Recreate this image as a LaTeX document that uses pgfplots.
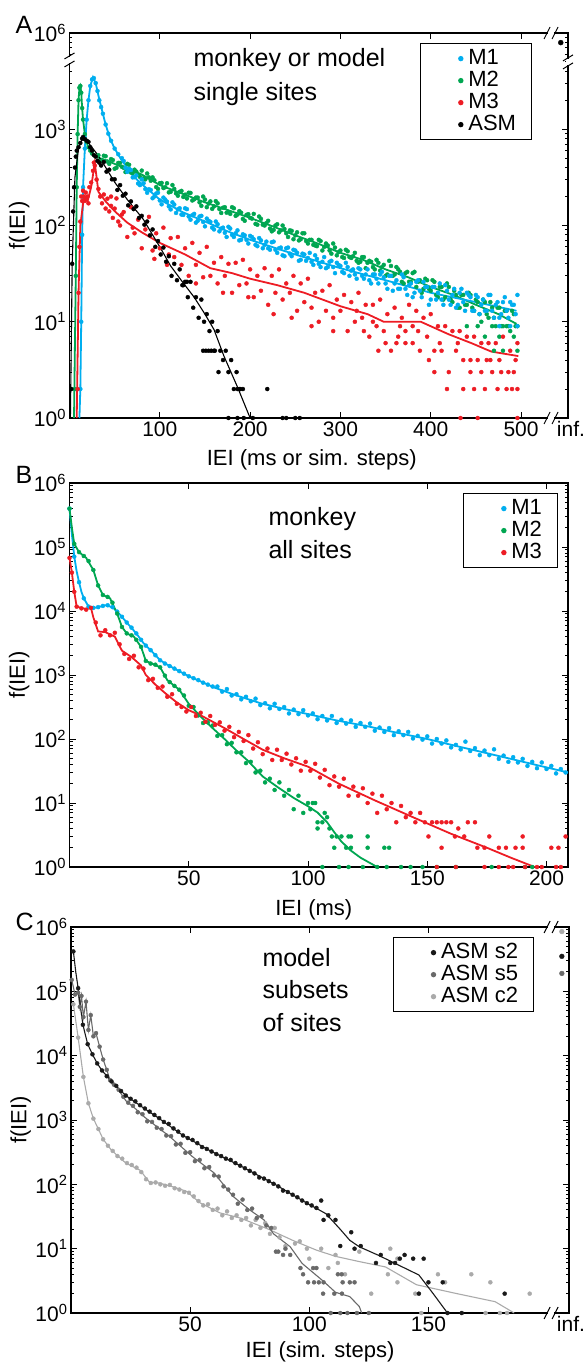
\documentclass[border=0pt]{standalone}
\usepackage{fontspec}
\setmainfont{Liberation Sans}
\usepackage{pgfplots}
\pgfplotsset{compat=1.18}

\definecolor{cM1}{RGB}{0,174,239}
\definecolor{cM2}{RGB}{0,166,81}
\definecolor{cM3}{RGB}{237,28,36}
\definecolor{cS2}{RGB}{25,25,25}
\definecolor{cS5}{RGB}{105,105,105}
\definecolor{cC2}{RGB}{170,170,170}

\newcommand\fs{\fontsize{21bp}{25bp}\selectfont}
\newcommand\fl{\fontsize{22bp}{26bp}\selectfont}
\newcommand\fa{\fontsize{25bp}{29bp}\selectfont}
\newcommand\ex[1]{10\textsuperscript{#1}}

% axis-break marks: on a vertical / horizontal axis line (argument: coordinate name)
\newcommand\vbrk[1]{%
  \fill[white] ([shift={(-2bp,-3bp)}]#1) rectangle ([shift={(2bp,3bp)}]#1);
  \draw[line width=1bp] ([shift={(-5bp,-7bp)}]#1) -- ([shift={(5bp,-1bp)}]#1);
  \draw[line width=1bp] ([shift={(-5bp,1bp)}]#1) -- ([shift={(5bp,7bp)}]#1);}
\newcommand\hbrk[1]{%
  \fill[white] ([shift={(-3bp,-2bp)}]#1) rectangle ([shift={(3bp,2bp)}]#1);
  \draw[line width=1bp] ([shift={(-7bp,-6bp)}]#1) -- ([shift={(-1bp,6bp)}]#1);
  \draw[line width=1bp] ([shift={(1bp,-6bp)}]#1) -- ([shift={(7bp,6bp)}]#1);}

% legend entry: a single dot, text to its right
\newcommand\dotlegend[1]{\addlegendimage{legend image code/.code={%
  \path[draw=none, fill=none] (0,0) -- (32bp,0);
  \fill[#1, draw=none] (26bp,0) circle (2.7bp);}}}

\pgfplotsset{
  every axis/.append style={
    scale only axis, clip=false,
    axis line style={line width=1.2bp},
    tick style={black, line width=1bp},
    major tick length=6bp, minor tick length=3bp,
    tick align=inside,
    tick label style={font=\fs},
    label style={font=\fl},
    legend style={font=\fl, draw=black, line width=1.2bp,
      inner xsep=14bp, inner ysep=4bp,
      nodes={inner sep=1.5bp, text height=15bp, text depth=4bp}},
    legend cell align=left,
  },
  scat/.style={only marks, mark=*, mark size=2bp, forget plot},
  fitk/.style={no markers, forget plot, line width=1.8bp},
  fitt/.style={no markers, forget plot, line width=1.1bp},
}

\begin{document}
\begin{tikzpicture}
\path[use as bounding box] (0,0) rectangle (588bp,-1364bp);

% ---------------- panel A ----------------
\begin{axis}[ymode=log, at={(69.5bp,-418bp)}, anchor=south west,
  width=498.5bp, height=385bp,
  xmin=0, xmax=552, ymin=1, ymax=10000,
  xtick={100,200,300,400,500}, xticklabels={100,200,300,400,500},
  extra x ticks={552}, extra x tick labels={inf.},
  extra x tick style={major tick length=0pt, tick label style={xshift=3bp}},
  ytick={1,10,100,1000,10000}, yticklabels={\ex{0},\ex{1},\ex{2},\ex{3},\ex{6}},
  xlabel={IEI (ms or sim. steps)},
  xlabel style={at={(rel axis cs:0.486,-0.109)}, anchor=center},
  ylabel={f(IEI)},
  ylabel style={at={(rel axis cs:-0.101,0.5)}, anchor=center},
  legend style={at={(0.928,0.974)}, anchor=north east},
]
\dotlegend{cM1}
\dotlegend{cM2}
\dotlegend{cM3}
\dotlegend{black}
\legend{M1,M2,M3,ASM}

\addplot[scat, cM2] coordinates {
(6,2)(7,30)(8,250)(9,890)(10,2000)(11,2700)(12,2820)(13,2400)(14,1660)(15,1260)(17,890)(19,740)(21,650)(23,600)(25,560)(28,530)
(32,537)(36,468)(40,525)(44,437)(48,479)(52,398)(56,447)(60,398)(64,437)(68,355)(72,380)(76,339)(80,372)(84,302)(88,316)(92,316)(96,251)(100,275)
(104,245)(108,275)(112,224)(116,240)(120,204)(124,229)(128,209)(132,219)(136,182)(140,195)(144,174)(148,200)(152,155)(156,178)(160,158)(164,170)
(168,135)(172,155)(176,138)(180,155)(184,126)(188,141)(192,117)(196,129)(200,120)(204,132)(208,102)(212,117)(216,100)(220,112)(224,87)(228,100)
(232,85)(236,100)(240,83)(244,89)(248,72)(252,85)(256,72)(260,83)(264,65)(268,71)(272,62)(276,71)(280,55)(284,65)(288,55)(292,65)(296,49)(300,55)
(304,46)(308,54)(312,46)(316,52)(320,41)(324,47)(328,36)(332,43)(336,37)(340,44)(344,34)(348,39)(352,31)(356,38)(360,31)(364,35)(368,26)(372,32)
(376,26)(380,32)(384,23)(388,27)(392,22)(396,27)(400,21)(404,26)(408,18)(412,23)(416,18)(420,23)(424,16)(428,19)(432,14)(436,19)(440,15)(444,19)
(448,13)(452,16)(456,10)(460,16)(464,11)(468,14)(472,9)(476,14)(480,9)(484,13)(488,8)(492,12)(496,5)
(440,9)(452,9)(460,7)(468,9)(476,7)(484,9)(492,7)(496,9)(480,5)(470,5)
(34,468)(38,531)(42,462)(46,490)(50,389)(54,447)(58,407)(62,359)(66,427)(70,351)(74,363)(78,320)(82,309)(86,347)(90,292)(94,295)(98,240)
(102,277)(106,250)(110,221)(114,263)(118,216)(122,224)(126,198)(130,191)(134,218)(138,187)(142,195)(146,160)(150,186)(154,169)(158,149)
(162,179)(166,148)(170,153)(174,136)(178,132)(182,151)(186,130)(190,136)(194,112)(198,131)(202,118)(206,104)(210,124)(214,102)(218,106)
(222,93)(226,90)(230,103)(234,89)(238,92)(242,76)(246,88)(250,79)(254,70)(258,83)(262,69)(266,71)(270,63)(274,61)(278,69)(282,60)(286,62)
(290,51)(294,59)(298,53)(302,47)(306,56)(310,47)(314,48)(318,43)(322,42)(326,47)(330,41)(334,42)(338,35)(342,41)(346,37)(350,30)(354,43)
(358,30)(362,37)(366,33)(370,25)(374,33)(378,26)(382,33)(386,26)(390,20)(394,28)(398,22)(402,27)(406,19)(410,23)(414,17)(418,25)(422,17)
(426,21)(430,14)(434,19)(438,15)(442,20)(446,14)(450,17)(454,12)(458,17)(462,12)(466,16)(470,11)(474,14)(478,9)(482,13)(486,9)(490,13)(494,9)};
\addplot[scat, cM1] coordinates {
(12,2)(13,10)(14,80)(15,250)(17,630)(19,1260)(21,2000)(23,2820)(25,3300)(27,3400)(29,3020)(31,2500)(33,2000)(35,1700)(37,1450)(40,1120)(43,900)(46,760)(50,630)(54,550)
(58,501)(62,398)(66,389)(70,316)(74,331)(78,263)(82,275)(86,219)(90,234)(94,200)(98,219)(102,166)(106,186)(110,158)(114,174)(118,135)(122,151)
(126,129)(130,148)(134,115)(138,132)(142,112)(146,126)(150,98)(154,112)(158,95)(162,110)(166,87)(170,95)(174,76)(178,93)(182,76)(186,89)(190,71)
(194,79)(198,65)(202,76)(206,63)(210,74)(214,58)(218,68)(222,56)(226,68)(230,52)(234,59)(238,48)(242,59)(246,48)(250,55)(254,43)(258,51)(262,43)
(266,52)(270,39)(274,45)(278,37)(282,47)(286,37)(290,43)(294,32)(298,39)(302,33)(306,41)(310,30)(314,35)(318,28)(322,35)(326,28)(330,35)(334,25)
(338,31)(342,25)(346,33)(350,25)(354,30)(358,21)(362,27)(366,22)(370,29)(374,19)(378,25)(382,20)(386,27)(390,18)(394,23)(398,15)(402,23)(406,17)
(410,25)(414,15)(418,21)(422,15)(426,22)(430,15)(434,22)(438,13)(442,19)(446,13)(450,19)(454,12)(458,17)(462,13)(466,19)(470,11)(474,16)(478,12)
(482,18)(486,11)(490,15)(494,12)(496,19)(488,9)(496,9)(476,9)
(60,468)(64,361)(68,377)(72,318)(76,273)(80,302)(84,239)(88,238)(92,192)(96,215)(100,182)(104,195)(108,177)(112,147)(116,165)(120,147)
(124,130)(128,151)(132,124)(136,128)(140,107)(144,124)(148,109)(152,118)(156,109)(160,91)(164,103)(168,93)(172,84)(176,97)(180,80)(184,83)
(188,70)(192,81)(196,71)(200,78)(204,72)(208,61)(212,70)(216,63)(220,58)(224,67)(228,56)(232,58)(236,49)(240,58)(244,51)(248,56)(252,52)
(256,44)(260,50)(264,46)(268,42)(272,49)(276,40)(280,42)(284,36)(288,42)(292,37)(296,41)(300,38)(304,32)(308,37)(312,34)(316,31)(320,36)
(324,30)(328,31)(332,27)(336,31)(340,28)(344,31)(348,29)(352,22)(356,30)(360,25)(364,22)(368,31)(372,22)(376,24)(380,18)(384,26)(388,21)
(392,26)(396,23)(400,17)(404,23)(408,20)(412,17)(416,24)(420,17)(424,19)(428,14)(432,20)(436,16)(440,20)(444,18)(448,13)(452,18)(456,15)
(460,13)(464,19)(468,13)(472,15)(476,11)(480,16)(484,13)(488,16)(492,15)};
\addplot[scat, cM3] coordinates {
(9,2)(10,20)(11,60)(12,110)(13,200)(14,180)(15,230)(16,200)(17,180)(18,220)(19,190)(20,200)(21,170)(22,250)(24,280)(26,370)(27,450)(28,420)(30,300)
(32,240)(34,200)(36,170)(38,210)(40,150)(42,190)(44,140)(46,160)(48,120)(50,150)
(52,191)(56,100)(60,138)(64,76)(68,155)(72,83)(76,115)(80,58)(84,91)(88,123)(92,55)(96,83)(100,58)(104,95)(108,39)(112,74)(116,47)(120,76)(124,39)
(128,58)(132,30)(136,66)(140,39)(144,52)(148,29)(152,60)(156,30)(160,41)(164,25)(168,47)(172,30)(176,40)(180,20)(184,41)(188,24)(192,44)(196,25)
(200,35)(204,18)(208,30)(212,21)(216,36)(220,15)(224,30)(228,20)(232,35)(236,17)(240,25)(244,20)(248,30)(252,13)(256,25)(260,16)(264,28)(268,14)
(272,20)(276,10)(280,21)(284,13)(288,24)(292,11)(296,17)(300,13)(304,19)(308,8)(312,16)(316,10)(320,20)(324,11)(328,15)(332,7)(336,15)(340,9)
(344,17)(348,8)(352,12)(356,5)(360,14)(364,7)(368,11)(372,6)(376,15)(380,9)(384,13)(388,5)(392,11)(396,7)(400,12)(404,5)(408,9)(412,5)(416,9)
(420,3)(424,8)(428,5)(432,8)(436,4)(440,7)(444,3)(448,7)(452,4)(456,6)(460,2)(464,6)(468,3)(472,6)(476,4)(480,7)(484,2)(488,5)(492,3)(496,6)
(418,2)(436,2)(456,3)(466,4)(478,3)(490,2)(494,4)(496,2)(474,2)(444,4)(404,3)(430,6)(410,6)(398,4)(386,8)(372,8)(362,6)(350,6)(342,5)(326,8)
(318,13)(292,8)(268,9)(246,11)(226,12)(198,18)(170,20)(140,25)(110,50)(94,45)(70,95)(58,130)(46,200)(54,110)(433,1)(452,1)(496,1)(486,3)(462,4)
(448,2)(380,6)(366,9)(336,10)};
\addplot[scat, black] coordinates {
(2,2)(3,40)(4,140)(5,250)(6,400)(7,520)(8,600)(10,650)(12,720)(14,800)(15,830)(17,790)(19,760)(21,740)(23,650)(25,600)(27,540)(29,520)(31,470)(33,450)(35,420)
(38,457)(41,363)(44,380)(47,302)(50,302)(53,234)(56,263)(59,204)(62,214)(65,162)(68,178)(71,148)(74,158)(77,120)(80,126)(83,102)(86,110)(89,79)
(92,91)(95,60)(98,69)(101,50)(104,59)(107,42)(110,48)(113,30)(116,40)(119,27)(122,35)(125,24)(128,26)(131,18)(134,26)(137,14)(140,18)(143,11)
(146,17)(149,10)(152,12)(155,8)(158,10)(161,5)(164,8)(167,5)(170,4)(173,5)(176,3)(179,4)(182,2)(185,3)(188,2)
(148,5)(151,5)(154,5)(157,5)(160,5)(165,3)(186,2)(189,2)(192,2)(219,2)(176,1)(186,1)(203,1)(236,1)(240,1)(250,1)(255,1)(193,1)(130,26)(126,24)};
\addplot[only marks, mark=*, mark size=2.5bp, black, forget plot] coordinates {(544,7950)};

\addplot[fitk, cM2] coordinates {(5,1)(7,32)(8,251)(9,891)(10,2000)(11,2690)(12,2820)(13,2400)(14,1660)(15,1260)(17,891)(20,676)(25,562)(30,513)(40,479)
(60,398)(80,339)(100,263)(125,214)(150,174)(175,145)(200,120)(225,98)(250,79)(275,65)(300,52)(325,44)(350,35)(375,29)(400,23)(425,19)(450,15)(475,12)(495,9.5)};
\addplot[fitk, cM1] coordinates {(11,1)(12,2)(13,10)(14,79)(15,251)(17,631)(19,1260)(21,2000)(23,2820)(26,3470)(29,3020)(32,2240)(36,1580)(40,1120)(45,794)
(50,631)(55,525)(60,447)(70,331)(80,269)(90,224)(100,186)(125,138)(150,110)(175,87)(200,71)(250,50)(300,36)(350,27)(400,20)(450,16)(495,13)};
\addplot[fitk, cM3] coordinates {(8,1)(10,20)(12,100)(16,200)(20,178)(24,251)(28,447)(32,224)(40,178)(50,141)(64,107)(80,85)(100,66)(128,50)(156,36)
(180,32)(200,28)(230,24)(260,20)(300,14.5)(330,12)(348,10)(389,10)(420,7.4)(445,6.0)(467,4.9)(497,4.4)};
\addplot[fitt, black] coordinates {(1,1)(3,40)(6,316)(10,631)(15,832)(20,741)(30,562)(37,447)(50,282)(64,186)(82,115)(89,89)(100,60)(112,38)(125,26)
(138,18)(150,12)(160,8.3)(171,4.4)(186,2.1)(200,1)};

\coordinate (Al) at (rel axis cs:0,0.93);
\coordinate (Ar) at (rel axis cs:1,0.925);
\coordinate (At) at (rel axis cs:0.966,1);
\coordinate (Ab) at (rel axis cs:0.966,0);
\end{axis}
\vbrk{Al} \vbrk{Ar} \hbrk{At} \hbrk{Ab}
\node[anchor=base west, font=\fa] at (190bp,-66.7bp) {monkey or model};
\node[anchor=base west, font=\fa] at (190bp,-100bp) {single sites};
\node[anchor=base west, font=\fa] at (12bp,-33bp) {A};

% ---------------- panel B ----------------
\begin{axis}[ymode=log, at={(69.5bp,-867bp)}, anchor=south west,
  width=498.5bp, height=384bp,
  xmin=0, xmax=209, ymin=1, ymax=1000000,
  xtick={50,100,150,200}, xticklabels={50,100,150,200},
  ytick={1,10,100,1000,10000,100000,1000000},
  yticklabels={\ex{0},\ex{1},\ex{2},\ex{3},\ex{4},\ex{5},\ex{6}},
  xlabel={IEI (ms)},
  xlabel style={at={(rel axis cs:0.49,-0.112)}, anchor=center},
  ylabel={f(IEI)},
  ylabel style={at={(rel axis cs:-0.101,0.5)}, anchor=center},
  legend style={at={(0.98,0.974)}, anchor=north east},
]
\dotlegend{cM1}
\dotlegend{cM2}
\dotlegend{cM3}
\legend{M1,M2,M3}

\addplot[scat, cM1] coordinates {
(0,398000)(2,70800)(4,28200)(6,15800)(8,11700)(10,11200)(12,11500)(14,12000)(16,12300)(18,11500)(20,9770)(22,8130)(24,6610)(26,5500)(28,4470)
(30,3550)(32,2880)(34,2450)(36,2040)(38,1700)(40,1510)(42,1380)(44,1260)(46,1150)(48,1050)(50,955)(52,891)(54,832)(56,759)(58,708)(60,661)
(62,661)(64,550)(66,603)(68,479)(70,501)(72,417)(74,457)(76,389)(78,427)(80,339)(82,363)(84,302)(86,355)(88,295)(90,316)(92,251)(94,288)(96,245)
(98,282)(100,234)(102,251)(104,204)(106,229)(108,195)(110,229)(112,178)(114,200)(116,174)(118,195)(120,155)(122,178)(124,155)(126,174)(128,135)
(130,151)(132,129)(134,148)(136,115)(138,132)(140,115)(142,129)(144,102)(146,112)(148,98)(150,110)(152,85)(154,100)(156,85)(158,95)(160,74)
(162,81)(164,69)(166,91)(168,65)(170,72)(172,56)(174,66)(176,56)(178,69)(180,49)(182,55)(184,44)(186,52)(188,43)(190,49)(192,38)(194,44)(196,35)
(198,43)(200,34)(202,38)(204,29)(206,34)(208,30)};
\addplot[scat, cM2] coordinates {
(0,398000)(2,112000)(4,83200)(6,72400)(8,60300)(10,43700)(12,25100)(14,17800)(16,16600)(18,13500)(20,9120)(22,5620)(24,4470)(26,4170)(28,3550)
(30,2750)(32,1660)(34,1510)(36,1450)(38,1320)(40,977)(42,776)(44,676)(46,589)(48,479)(50,331)(52,316)(54,234)(56,178)(58,182)(60,162)(62,112)
(64,115)(66,83)(68,87)(70,62)(72,62)(74,42)(76,44)(78,30)(80,32)(82,21)(84,24)(86,16)(88,21)(90,13)(92,16)(94,8)(96,13)(98,7)(100,10)(102,10)
(104,5)(106,5)(108,6)(110,3)(112,3)(114,3)(116,2)(118,2)
(103,10)(101,8)(107,7)(109,4)(117,3)(118,3)(125,3)(125,2)(132,2)(134,2)(111,2)(104,4)
(106,1)(113,1)(117,1)(123,1)(129,1)(133,1)(139,1)(143,1)(148,1)(154,1)(162,1)(177,1)(191,1)(194,1)};
\addplot[scat, cM3] coordinates {
(0,67600)(1,39800)(2,20000)(3,11700)(5,11000)(7,10500)(9,11200)(11,6610)(13,4170)(15,5010)(17,4170)(19,4570)(21,3020)(23,2140)(25,1780)(27,2000)
(29,1320)(31,1260)(33,832)(35,871)(37,631)(39,661)(41,457)(43,501)(45,355)(47,316)(49,269)(51,316)(53,229)(55,257)(57,186)(59,229)(61,166)(63,182)
(65,135)(67,155)(69,107)(71,129)(73,93)(75,115)(77,71)(79,89)(81,58)(83,71)(85,47)(87,68)(89,47)(91,59)(93,40)(95,50)(97,32)(99,44)(101,32)(103,41)
(105,25)(107,33)(109,19)(111,26)(113,18)(115,24)(117,13)(119,18)(121,13)(123,17)(125,10)(127,14)(129,7)(131,13)(133,8)(135,10)(137,5)(139,9)
(141,6)(143,7)(145,5)(147,7)(149,5)
(152,5)(154,5)(156,5)(158,5)(160,5)(167,5)(170,5)(150.5,3)(161.6,3)(165.5,3)(176,3)(190,3)(208,3)(156,2)(171,2)(174,2)(180,2)(183,2)(187,2)
(190,2)(202,2)(205,2)(154,1)(162,1)(174,1)(180,1)(184,1)(186,1)(191,1)(196,1)(198,1)(204,1)(206,1)(163,4)};

\addplot[fitk, cM1] coordinates {(0,398000)(1,158000)(2,70800)(3,41700)(4,28200)(5,20000)(6,15800)(8,11700)(10,11200)(12,11500)(15,12300)(18,11500)
(21,8910)(24,6610)(28,4470)(31,3160)(35,2240)(38,1700)(41,1450)(45,1200)(50,955)(55,794)(61,631)(70,479)(80,363)(90,295)(100,245)(112,195)
(125,158)(137,126)(150,100)(162,78)(175,60)(187,47)(200,36)(209,30)};
\addplot[fitk, cM2] coordinates {(0,398000)(1,200000)(2,112000)(4,83200)(7,67600)(10,43700)(12,25100)(14,17800)(17,15800)(20,9120)(22,5620)(24,4470)
(27,3980)(30,2750)(32,1660)(35,1480)(38,1320)(41,832)(46,589)(50,355)(55,224)(60,148)(65,100)(70,66)(75,45)(81,26)(87,18)(94,12)(100,8.9)
(104,7.1)(108,5.0)(111,3.5)(114,2.5)(118,1.8)(122,1.4)(129,1)};
\addplot[fitk, cM3] coordinates {(0,67600)(1,39800)(2,20000)(3,11700)(5,11200)(7,10700)(9,11200)(10,7940)(12,4790)(15,4680)(19,3980)(22,2400)(26,1910)
(30,1410)(32,1000)(36,708)(40,525)(45,372)(50,282)(56,224)(65,148)(73,100)(81,68)(90,50)(100,37)(113,20)(128,11)(144,6.0)(160,3.3)(175,2.0)
(185,1.4)(195,1)};
\end{axis}
\node[anchor=base west, font=\fa] at (265bp,-525bp) {monkey};
\node[anchor=base west, font=\fa] at (265bp,-558bp) {all sites};
\node[anchor=base west, font=\fa] at (12bp,-483bp) {B};

% ---------------- panel C ----------------
\begin{axis}[ymode=log, at={(71bp,-1313bp)}, anchor=south west,
  width=498bp, height=386bp,
  xmin=0, xmax=209, ymin=1, ymax=1000000,
  xtick={50,100,150}, xticklabels={50,100,150},
  extra x ticks={209}, extra x tick labels={inf.},
  extra x tick style={major tick length=0pt, tick label style={xshift=2bp}},
  ytick={1,10,100,1000,10000,100000,1000000},
  yticklabels={\ex{0},\ex{1},\ex{2},\ex{3},\ex{4},\ex{5},\ex{6}},
  xlabel={IEI (sim. steps)},
  xlabel style={at={(rel axis cs:0.5,-0.101)}, anchor=center},
  ylabel={f(IEI)},
  ylabel style={at={(rel axis cs:-0.101,0.5)}, anchor=center},
  legend style={at={(0.93,0.974)}, anchor=north east},
]
\dotlegend{cS2}
\dotlegend{cS5}
\dotlegend{cC2}
\legend{ASM s2,ASM s5,ASM c2}

\addplot[scat, cC2] coordinates {
(1,63100)(3,19100)(5.2,4680)(7.3,1820)(9.4,1050)(11.5,724)(13.5,501)(15.5,398)(17.5,331)(19.5,275)(21.5,251)(23.5,214)(25.5,200)(27.5,182)
(29.5,155)(31.5,120)(33.5,105)(35.5,107)(37.5,100)(39.5,95)(41.5,98)(43.5,87)(45.5,83)(47.5,76)(49.5,74)(51.5,65)(53.5,55)(55.5,47)(57.5,49)
(59.5,40)(61.5,42)(63.5,33)(65.5,38)(67.5,30)(69.5,33)(71.5,28)(73.5,30)(75.5,23)(77.5,28)(79.5,21)(81.5,25)(83.5,17)(85.5,21)(87.5,15)
(90,11)(94,12)(96,13)(99,10)(100,7)(105,10)(108,5)(111,8)(112,6)(115,4)(121,9)(126,2)(133,4)(134,10)(137,7)(137,3)(144.5,2)(147,1)(154,4)
(157,3)(168,4)(174,1)(176,3)(180,1)(183,1)(192.5,2)};
\addplot[scat, cS5] coordinates {
(0.3,151000)(1.7,89100)(3,95500)(3.7,57500)(4.4,85100)(5.2,39800)(6.3,69200)(7.3,25100)(8.3,42700)(9.4,20000)(10.5,22400)(12,13800)(13.5,8710)
(15,6030)(16.4,4170)(18,3550)(20,2950)(22,2290)(24,1860)(26,1660)(28,1320)(30,1230)(32,955)(34,933)(36,759)(38,724)(40,575)(42,562)(44,417)
(46,427)(48,309)(50,316)(52,229)(54,240)(56,178)(58,186)(60,138)(62,132)(64,93)(66,83)(68,69)(70,50)(72,58)(74,40)(76,42)(78,30)(80,32)(82,23)
(84,21)(86,9)(87,9)(89,8)(90,10)(92,8)
(96.3,5)(101.6,5)(103,5)(97.4,4)(99.5,3)(102,3)(104,3)(106,3)(105.8,2)(110.5,2)(113.7,2)(114,3)(117,3)(119,3)(113.6,4)(112,4)(109,1)(113,1)
(116,1)(120,1)(125,1)};
\addplot[scat, cS2] coordinates {
(1,417000)(3,112000)(5,30200)(7,15100)(9,10500)(11,7590)(13,5890)(15,4790)(17,3980)(19,3390)(21,2820)(23,2400)(25,2140)(27,1950)(29,1700)
(31,1510)(33,1350)(35,1200)(37,1070)(39,933)(41,870)(43,741)(45,661)(47,575)(49,525)(51,490)(53,437)(55,380)(57,355)(59,324)(61,295)(63,275)
(65,251)(67,240)(69,214)(71,195)(73,178)(75,162)(77,148)(79,128)(81,123)(83,112)(85,102)(87,93)(89,80)(91,76)(93,69)(95,63)(97,56)(99,51)
(101,47)(103,43)
(105,56)(106,28)(108,33)(111,28)(113,11)(117.6,18)(121.6,11)(119,10)(128,6)(130,8)(134,6)(136,6)(138,7)(140,8)(143.6,7)(148,7)(146,2)(150,3)
(156,3)(182,2)(158,1)(164,1)};
\addplot[only marks, mark=*, mark size=2.4bp, cC2, forget plot] coordinates {(206,850000)};
\addplot[only marks, mark=*, mark size=2.4bp, cS2, forget plot] coordinates {(206,350000)};
\addplot[only marks, mark=*, mark size=2.4bp, cS5, forget plot] coordinates {(206,190000)};

\addplot[fitt, cC2] coordinates {(1,63100)(3,19100)(5.2,4680)(7.3,1820)(9.4,1050)(11.5,724)(13.5,501)(17,339)(20,269)(23,214)(29,166)(33,107)
(37,105)(43,91)(48.5,78)(54,52)(62.5,36)(71,30)(83,20)(93,13.5)(103,9.5)(111,7.6)(121,6.3)(132,5.2)(145,2.75)(162,2.0)(178,1.5)(186,1)};
\addplot[fitt, cS5] coordinates {(0.3,151000)(1.7,89100)(3,95500)(3.7,57500)(4.4,85100)(5.2,39800)(6.3,69200)(7.3,25100)(8.3,42700)(9.4,20000)
(10.5,22400)(12,13800)(13.5,8710)(15,6030)(16.4,4170)(19,3310)(23,2000)(27.5,1450)(31,1100)(41.5,550)(51,269)(60,151)(68,65)(75,40)(81,28)
(85,17)(92,10.7)(97,5.9)(106,3.1)(111,2.1)(117,1.8)(121,1.26)(122,1)};
\addplot[fitt, cS2] coordinates {(1,417000)(2,200000)(3,112000)(4,56200)(5,30200)(7,15100)(9,10500)(11,7590)(13,5890)(17,3980)(23,2400)(30,1580)
(36,1120)(47,575)(58,339)(72,186)(86,98)(99,51)(107,35)(113,20)(117,13.5)(121,10.7)(129,7.9)(146,3.9)(152,2.0)(158,1)};

\coordinate (Ct) at (rel axis cs:0.964,1);
\coordinate (Cb) at (rel axis cs:0.964,0);
\end{axis}
\hbrk{Ct} \hbrk{Cb}
\node[anchor=base west, font=\fa] at (259bp,-966bp) {model};
\node[anchor=base west, font=\fa] at (259bp,-998bp) {subsets};
\node[anchor=base west, font=\fa] at (259bp,-1031bp) {of sites};
\node[anchor=base west, font=\fa] at (12bp,-930bp) {C};
\end{tikzpicture}
\end{document}
